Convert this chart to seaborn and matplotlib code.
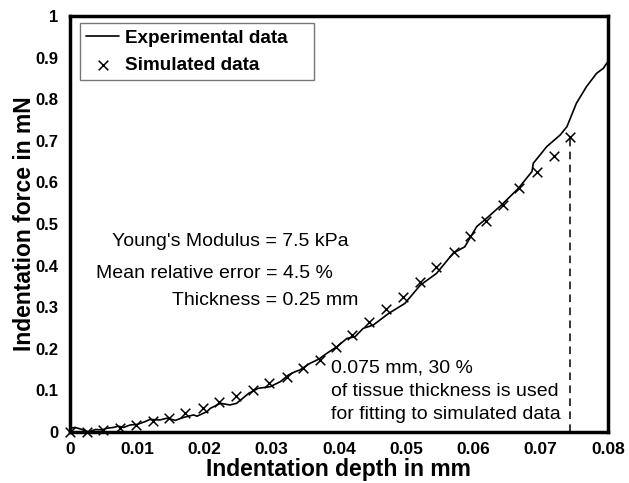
import matplotlib
matplotlib.use("Agg")
import matplotlib.pyplot as plt
import seaborn as sns
import pandas as pd

# Experimental curve (indentation depth mm, force mN)
exp_x = [0, 0.0008, 0.0018, 0.0028, 0.0038, 0.0048, 0.0055, 0.0065, 0.0072, 0.008, 0.009,
         0.01, 0.0112, 0.0119, 0.0134, 0.0144, 0.0157, 0.0169, 0.0184, 0.0189, 0.0204,
         0.0209, 0.0224, 0.0238, 0.0248, 0.0266, 0.028, 0.0298, 0.0313, 0.0325, 0.0335,
         0.0342, 0.0357, 0.037, 0.0382, 0.0397, 0.0412, 0.0424, 0.0436, 0.0451, 0.0474,
         0.0498, 0.0521, 0.0545, 0.057, 0.0587, 0.0605, 0.0617, 0.0642, 0.0667, 0.0687,
         0.0689, 0.0709, 0.0729, 0.0739, 0.0753, 0.0768, 0.0783, 0.0793, 0.0798, 0.08]
exp_y = [0.009, 0.011, 0.006, 0.0, 0.006, 0.005, 0.009, 0.011, 0.014, 0.011, 0.017,
         0.018, 0.025, 0.03, 0.029, 0.033, 0.028, 0.035, 0.041, 0.038, 0.049,
         0.057, 0.069, 0.065, 0.069, 0.093, 0.105, 0.109, 0.121, 0.137, 0.145,
         0.149, 0.165, 0.175, 0.189, 0.205, 0.225, 0.229, 0.249, 0.257, 0.285,
         0.309, 0.353, 0.381, 0.43, 0.445, 0.494, 0.51, 0.546, 0.586, 0.626,
         0.646, 0.686, 0.714, 0.734, 0.79, 0.83, 0.862, 0.874, 0.886, 0.89]

# Simulated points
sim_x = [0, 0.0026, 0.005, 0.0074, 0.0099, 0.0124, 0.0147, 0.0171, 0.0198, 0.0222,
         0.0247, 0.0272, 0.0296, 0.0323, 0.0347, 0.0372, 0.0396, 0.042, 0.0445, 0.047,
         0.0495, 0.052, 0.0544, 0.0571, 0.0595, 0.0619, 0.0644, 0.0668, 0.0694, 0.0719,
         0.0743]
sim_y = [0.0, 0.0, 0.005, 0.009, 0.017, 0.026, 0.034, 0.046, 0.058, 0.073,
         0.087, 0.101, 0.117, 0.133, 0.153, 0.173, 0.205, 0.233, 0.265, 0.295,
         0.325, 0.36, 0.397, 0.433, 0.472, 0.508, 0.546, 0.586, 0.624, 0.664,
         0.71]

x_ticks = [0, 0.01, 0.02, 0.03, 0.04, 0.05, 0.06, 0.07, 0.08]
x_tick_labels = ["0", "0.01", "0.02", "0.03", "0.04", "0.05", "0.06", "0.07", "0.08"]
y_ticks = [0, 0.1, 0.2, 0.3, 0.4, 0.5, 0.6, 0.7, 0.8, 0.9, 1]
y_tick_labels = ["0", "0.1", "0.2", "0.3", "0.4", "0.5", "0.6", "0.7", "0.8", "0.9", "1"]

sns.set_style("white")
plt.rcParams['font.family'] = ['Liberation Sans', 'DejaVu Sans']
plt.rcParams['text.color'] = 'black'
plt.rcParams['axes.labelcolor'] = 'black'
plt.rcParams['xtick.color'] = 'black'
plt.rcParams['ytick.color'] = 'black'

fig = plt.figure(figsize=(6.29, 4.83), dpi=100)
ax = fig.add_axes([0.111, 0.1056, 0.8556, 0.8614])

exp_df = pd.DataFrame({"depth": exp_x, "force": exp_y})
sim_df = pd.DataFrame({"depth": sim_x, "force": sim_y})

sns.lineplot(data=exp_df, x="depth", y="force", ax=ax, color="black", linewidth=1.2,
             label="Experimental data", sort=False)
sns.scatterplot(data=sim_df, x="depth", y="force", ax=ax, marker="x", color="black",
                s=48, linewidth=1.1, label="Simulated data", zorder=3, clip_on=False)

ax.plot([sim_x[-1], sim_x[-1]], [0, sim_y[-1]], color="black", linestyle=(0, (5, 3.5)),
        linewidth=1.1)

ax.set_xlim(0, 0.08)
ax.set_ylim(0, 1)
ax.set_xticks(x_ticks)
ax.set_xticklabels(x_tick_labels, fontsize=12.5, fontweight="bold")
ax.set_yticks(y_ticks)
ax.set_yticklabels(y_tick_labels, fontsize=12, fontweight="bold")
ax.tick_params(direction="in", length=4.5, width=0.8, colors="black")
ax.tick_params(axis="x", pad=7)
ax.tick_params(axis="y", pad=8)
ax.set_xlabel("Indentation depth in mm", fontsize=16.5, fontweight="bold", labelpad=1)
ax.set_ylabel("Indentation force in mN", fontsize=16.5, fontweight="bold", labelpad=0)

for s in ax.spines.values():
    s.set_visible(True)
    s.set_color("black")
    s.set_linewidth(2.5)

leg = ax.legend(loc="upper left", bbox_to_anchor=(0.0186, 0.837, 0.435, 0.146),
                mode="expand", frameon=True,
                fancybox=False, edgecolor="#555555", prop={"weight": "bold", "size": 13.6},
                handlelength=1.75, borderpad=0.35, labelspacing=0.5, handletextpad=0.3,
                borderaxespad=0)
leg.get_frame().set_linewidth(1.0)

ax.text(0.00626, 0.457, "Young's Modulus = 7.5 kPa", fontsize=14, ha="left", va="center")
ax.text(0.0039, 0.382, "Mean relative error = 4.5 %", fontsize=14, ha="left", va="center")
ax.text(0.0152, 0.317, "Thickness = 0.25 mm", fontsize=14, ha="left", va="center")

ax.text(0.0388, 0.155, "0.075 mm, 30 %", fontsize=14, ha="left", va="center")
ax.text(0.0388, 0.097, "of tissue thickness is used", fontsize=14, ha="left", va="center")
ax.text(0.0388, 0.041, "for fitting to simulated data", fontsize=14, ha="left", va="center")

fig.savefig("out.png", dpi=100)
